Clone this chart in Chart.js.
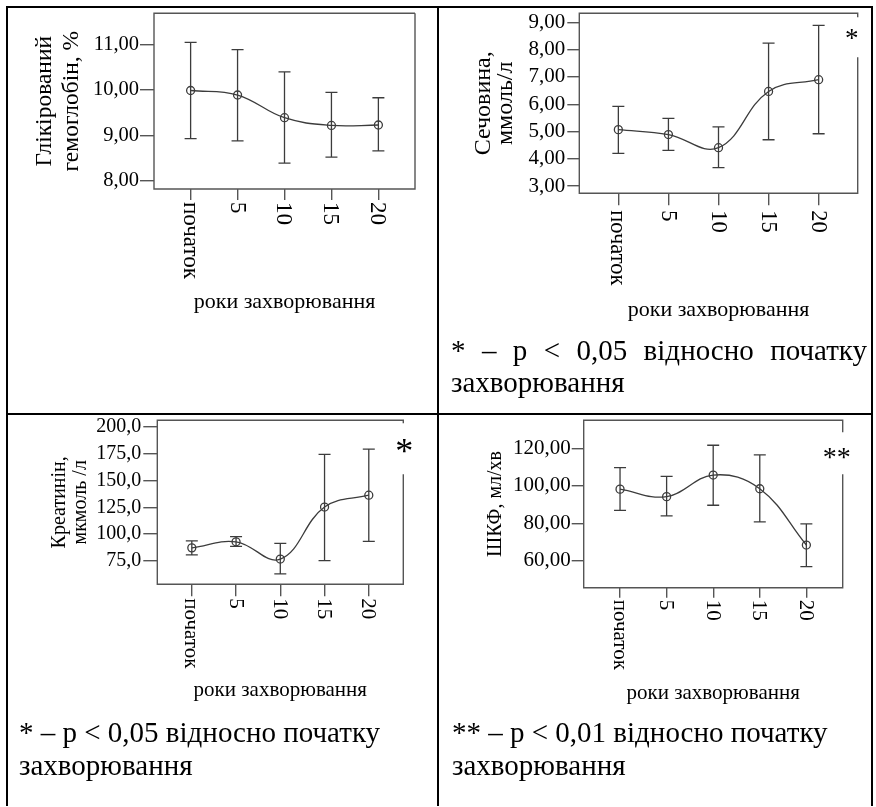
<!DOCTYPE html>
<html>
<head>
<meta charset="utf-8">
<script src="https://cdn.jsdelivr.net/npm/chart.js@4.4.1/dist/chart.umd.min.js"></script>
<style>
  html, body { margin: 0; padding: 0; background: #fff; }
  #page { position: relative; width: 876px; height: 807px; overflow: hidden; font-family: "Liberation Serif", "Times New Roman", serif; }
  .ln { position: absolute; background: #000; }
  canvas { position: absolute; }
  .note { position: absolute; font-size: 29px; line-height: 33px; color: #000; }
</style>
</head>
<body>
<div id="page">
  <canvas id="c1" width="427" height="405" style="left:8px;top:8px"></canvas>
  <canvas id="c2" width="433" height="405" style="left:438px;top:8px"></canvas>
  <canvas id="c3" width="427" height="387" style="left:8px;top:415px"></canvas>
  <canvas id="c4" width="433" height="387" style="left:438px;top:415px"></canvas>

  <div class="ln" style="left:6px;top:6px;width:867px;height:2px"></div>
  <div class="ln" style="left:6px;top:6px;width:2px;height:800px"></div>
  <div class="ln" style="left:871px;top:6px;width:2px;height:800px"></div>
  <div class="ln" style="left:437px;top:6px;width:2px;height:800px"></div>
  <div class="ln" style="left:6px;top:413px;width:867px;height:2px"></div>

  <div class="note" style="left:451px;top:334px;width:416px;line-height:32px;text-align:justify">* – p &lt; 0,05 відносно початку захворювання</div>
  <div class="note" style="left:19px;top:716px;width:410px">* – p &lt; 0,05 відносно початку захворювання</div>
  <div class="note" style="left:452px;top:716px;width:410px">** – p &lt; 0,01 відносно початку захворювання</div>
</div>
<script>
const years = ['початок', '5', '10', '15', '20'];

// глікований гемоглобін, %
const hba1cMean = [9.99, 9.89, 9.39, 9.22, 9.23];
const hba1cUp = [11.05, 10.89, 10.40, 9.95, 9.83];
const hba1cLow = [8.93, 8.88, 8.39, 8.52, 8.66];

// сечовина, ммоль/л
const ureaMean = [5.07, 4.89, 4.41, 6.47, 6.90];
const ureaUp = [5.92, 5.48, 5.17, 8.24, 8.89];
const ureaLow = [4.20, 4.31, 3.68, 4.70, 4.92];

// креатинін, мкмоль/л
const creatMean = [87.0, 92.7, 76.5, 125.2, 136.3];
const creatUp = [93.6, 97.6, 91.2, 174.5, 179.4];
const creatLow = [80.5, 88.4, 62.7, 75.0, 93.0];

// ШКФ, мл/хв
const gfrMean = [98.2, 94.2, 105.7, 98.4, 68.4];
const gfrUp = [109.7, 105.0, 121.6, 116.5, 79.7];
const gfrLow = [86.9, 83.9, 89.6, 80.7, 56.9];

const LINE = '#3c3c3c';
const FRAME = '#555';
const SERIF = '"Liberation Serif", "Times New Roman", serif';

function comma(dec) {
  return v => v.toFixed(dec).replace('.', ',');
}

const plotPlugin = {
  id: 'plotPlugin',
  beforeDatasetsDraw(chart, args, o) {
    const ctx = chart.ctx;
    const xs = chart.scales.x, ys = chart.scales.y;
    ctx.save();
    ctx.strokeStyle = LINE;
    ctx.lineWidth = 1.3;
    o.up.forEach((u, i) => {
      const x = xs.getPixelForValue(i);
      const y1 = ys.getPixelForValue(u);
      const y2 = ys.getPixelForValue(o.low[i]);
      ctx.beginPath();
      ctx.moveTo(x, y1); ctx.lineTo(x, y2);
      ctx.moveTo(x - 6, y1); ctx.lineTo(x + 6, y1);
      ctx.moveTo(x - 6, y2); ctx.lineTo(x + 6, y2);
      ctx.stroke();
    });
    ctx.restore();
  },
  afterDraw(chart, args, o) {
    const ctx = chart.ctx;
    const a = chart.chartArea;
    const xs = chart.scales.x;
    ctx.save();
    // frame of the plot
    ctx.strokeStyle = FRAME;
    ctx.lineWidth = 1.4;
    ctx.beginPath();
    ctx.moveTo(a.right, a.top + (o.gap ? o.gap[0] : 0));
    ctx.lineTo(a.right, a.top);
    ctx.lineTo(a.left, a.top);
    ctx.lineTo(a.left, a.bottom);
    ctx.lineTo(a.right, a.bottom);
    ctx.lineTo(a.right, a.top + (o.gap ? o.gap[1] : 0));
    ctx.stroke();
    // rotated category labels, reading downwards
    ctx.fillStyle = '#000';
    ctx.font = o.labelSize + 'px ' + SERIF;
    ctx.textAlign = 'left';
    ctx.textBaseline = 'middle';
    years.forEach((lab, i) => {
      const x = xs.getPixelForValue(i) + o.labelDx;
      ctx.save();
      ctx.translate(x, a.bottom + o.labelDy);
      ctx.rotate(Math.PI / 2);
      ctx.fillText(lab, 0, 0);
      ctx.restore();
    });
    if (o.star) {
      ctx.font = o.starSize + 'px ' + SERIF;
      ctx.textAlign = 'center';
      ctx.textBaseline = 'alphabetic';
      ctx.fillText(o.star, a.right + o.starDx, a.top + o.starDy);
    }
    ctx.restore();
  }
};

function makeChart(id, p) {
  return new Chart(document.getElementById(id), {
    type: 'line',
    data: {
      datasets: [{
        data: p.mean.map((v, i) => ({ x: i, y: v })),
        borderColor: LINE,
        borderWidth: 1.3,
        tension: 0.4,
        pointRadius: 4,
        pointBorderWidth: 1.3,
        pointBorderColor: LINE,
        pointBackgroundColor: 'rgba(0,0,0,0)'
      }]
    },
    plugins: [plotPlugin],
    options: {
      responsive: false,
      animation: false,
      devicePixelRatio: 1,
      layout: { padding: p.pad },
      plugins: {
        legend: { display: false },
        tooltip: { enabled: false },
        plotPlugin: {
          up: p.up, low: p.low, gap: p.gap, star: p.star, starSize: p.starSize,
          starDx: p.starDx, starDy: p.starDy,
          labelSize: p.labelSize, labelDx: p.labelDx, labelDy: p.labelDy
        }
      },
      scales: {
        x: {
          type: 'linear',
          min: -0.78, max: 4.78,
          afterFit: s => { s.height = 130; s.paddingLeft = 0; s.paddingRight = 0; },
          border: { display: false },
          grid: { drawOnChartArea: false, drawTicks: true, tickLength: p.xTick, color: FRAME, lineWidth: 1.4 },
          ticks: { display: false, stepSize: 1, includeBounds: false },
          title: {
            display: true, text: 'роки захворювання', color: '#000',
            font: { family: SERIF, size: p.xTitleSize, lineHeight: 1.2 },
            padding: { top: 0, bottom: p.xTitlePad }
          }
        },
        y: {
          min: p.min, max: p.max,
          afterFit: s => { s.width = p.yWidth; s.paddingTop = 0; s.paddingBottom = 0; },
          border: { display: false },
          grid: { drawOnChartArea: false, drawTicks: true, tickLength: p.yTick, color: FRAME, lineWidth: 1.4 },
          ticks: {
            stepSize: p.step, includeBounds: false, padding: p.yTickPad, color: '#000',
            font: { family: SERIF, size: p.tickSize },
            callback: comma(p.dec)
          },
          title: {
            display: true, text: p.yTitle, color: '#000',
            font: { family: SERIF, size: p.yTitleSize, lineHeight: p.yTitleLh },
            padding: { top: p.yTitlePad, bottom: 0 }
          }
        }
      }
    }
  });
}

makeChart('c1', {
  mean: hba1cMean, up: hba1cUp, low: hba1cLow,
  min: 7.82, max: 11.69, step: 1, dec: 2,
  pad: { top: 3, right: 20, left: 0, bottom: 94 },
  yWidth: 146, yTick: 14, yTickPad: 1, tickSize: 20.5,
  yTitle: ['Глікірований', 'гемоглобін, %'], yTitleSize: 23.5, yTitleLh: 27 / 23.5, yTitlePad: 23.5,
  xTick: 11, xTitleSize: 22, xTitlePad: 4,
  labelSize: 23, labelDx: -1, labelDy: 13
});

makeChart('c2', {
  mean: ureaMean, up: ureaUp, low: ureaLow,
  min: 2.74, max: 9.33, step: 1, dec: 2,
  pad: { top: 3, right: 13.3, left: 0, bottom: 89.7 },
  yWidth: 141.3, yTick: 12, yTickPad: 2, tickSize: 21,
  yTitle: ['Сечовина,', 'ммоль/л'], yTitleSize: 24, yTitleLh: 22 / 24, yTitlePad: 34.7,
  xTick: 12, xTitleSize: 22, xTitlePad: 0,
  labelSize: 22.5, labelDx: -1, labelDy: 17,
  gap: [4, 44], star: '*', starSize: 27, starDx: -6, starDy: 34
});

makeChart('c3', {
  mean: creatMean, up: creatUp, low: creatLow,
  min: 52.9, max: 206.4, step: 25, dec: 1,
  pad: { top: 2.3, right: 31.7, left: 0, bottom: 87.7 },
  yWidth: 149.3, yTick: 14, yTickPad: 2, tickSize: 20,
  yTitle: ['Креатинін,', 'мкмоль /л'], yTitleSize: 20, yTitleLh: 1.05, yTitlePad: 40.8,
  xTick: 12, xTitleSize: 21, xTitlePad: 11.7,
  labelSize: 21, labelDx: -1, labelDy: 14,
  gap: [3, 54], star: '*', starSize: 36, starDx: 1, starDy: 43
});

makeChart('c4', {
  mean: gfrMean, up: gfrUp, low: gfrLow,
  min: 45.65, max: 134.9, step: 20, dec: 2,
  pad: { top: 2.3, right: 28.3, left: 0, bottom: 84.3 },
  yWidth: 145.7, yTick: 12, yTickPad: 1, tickSize: 21,
  yTitle: 'ШКФ, мл/хв', yTitleSize: 20, yTitleLh: 1.2, yTitlePad: 46,
  xTick: 10, xTitleSize: 21, xTitlePad: 11.8,
  labelSize: 21, labelDx: -1, labelDy: 12,
  gap: [12, 54], star: '**', starSize: 28, starDx: -6, starDy: 46
});
</script>
</body>
</html>
